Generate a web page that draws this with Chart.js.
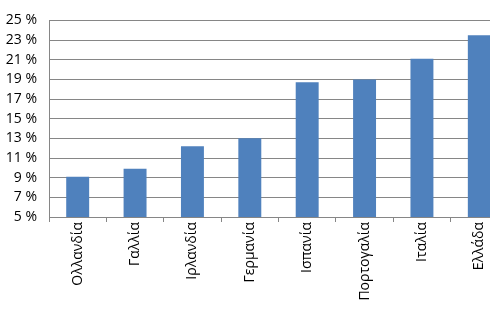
<!DOCTYPE html>
<html>
<head>
<meta charset="utf-8">
<script src="https://cdn.jsdelivr.net/npm/chart.js"></script>
<style>
  html, body { margin: 0; padding: 0; overflow: hidden; background: #fff; }
  #wrap { width: 508px; height: 310px; }
</style>
</head>
<body>
<div id="wrap"><canvas id="chart"></canvas></div>
<script>
// countries and share values (%)
var countries = ['Ολλανδία', 'Γαλλία', 'Ιρλανδία', 'Γερμανία', 'Ισπανία', 'Πορτογαλία', 'Ιταλία', 'Ελλάδα'];
var values = [9.1, 9.9, 12.2, 13.0, 18.7, 19.0, 21.1, 23.5];
var yMin = 5, yMax = 25, yStep = 2;

var ctx = document.getElementById('chart').getContext('2d');
var chart = new Chart(ctx, {
    type: 'bar',
    data: {
        labels: countries,
        datasets: [{
            data: values,
            backgroundColor: '#4F81BD',
            borderWidth: 0,
            barPercentage: 0.4,
            categoryPercentage: 1.0
        }]
    },
    options: {
        responsive: true,
        maintainAspectRatio: false,
        animation: false,
        layout: { padding: { top: 6, left: 0, right: 0, bottom: 0 } },
        plugins: {
            legend: { display: false },
            tooltip: { enabled: false }
        },
        scales: {
            x: {
                grid: {
                    offset: true,
                    drawOnChartArea: false,
                    drawTicks: true,
                    tickLength: 5,
                    color: '#868686'
                },
                border: { display: false },
                ticks: {
                    minRotation: 90,
                    maxRotation: 90,
                    padding: 0,
                    color: '#000',
                    font: { family: 'Open Sans', size: 14 }
                },
                afterFit: function(scale) { scale.height = 93; }
            },
            y: {
                min: yMin,
                max: yMax,
                grid: {
                    color: '#868686',
                    drawTicks: false
                },
                border: { display: true, color: '#868686' },
                ticks: {
                    stepSize: yStep,
                    autoSkip: false,
                    padding: 12,
                    color: '#000',
                    font: { family: 'Open Sans', size: 14 },
                    callback: function(v) { return v + ' %'; }
                },
                afterFit: function(scale) { scale.width = 49; }
            }
        }
    }
});
</script>
</body>
</html>
